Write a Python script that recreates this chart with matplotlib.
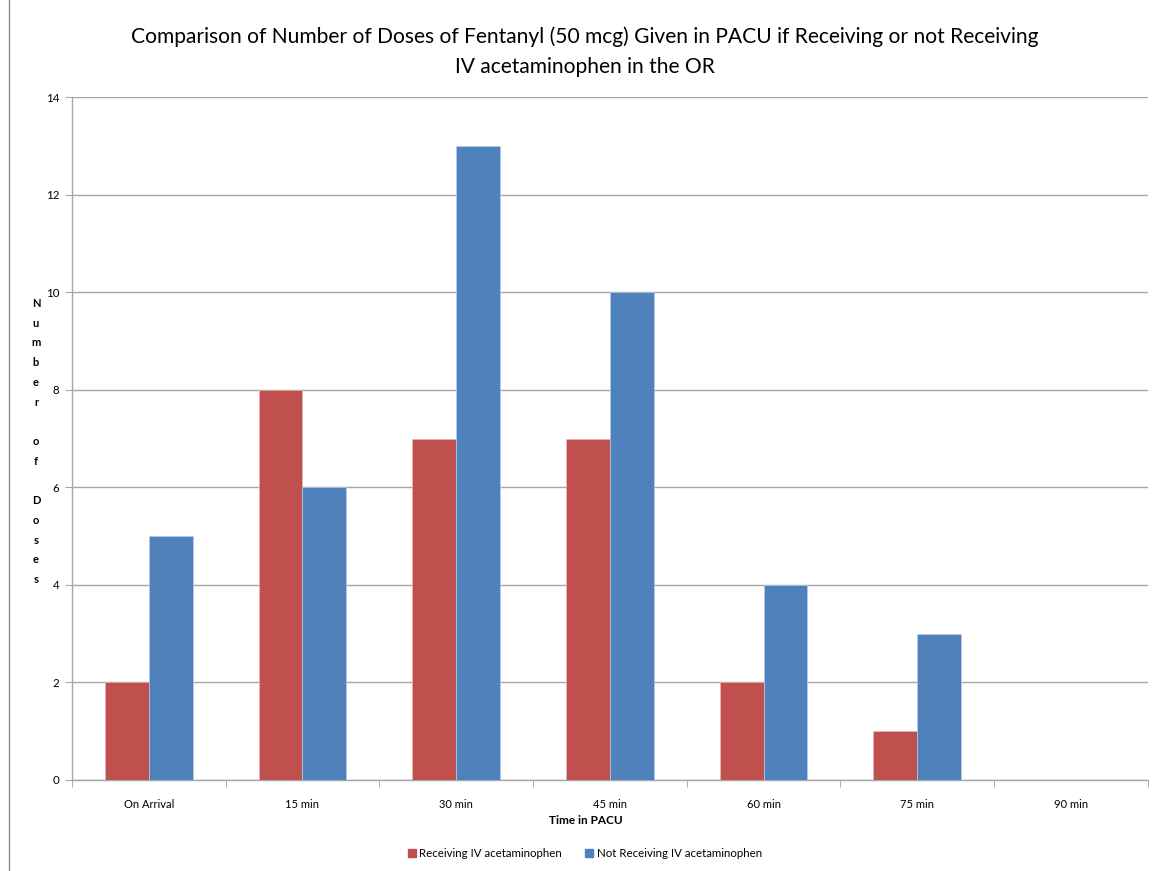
import numpy as np
import matplotlib.pyplot as plt
from matplotlib.lines import Line2D
from matplotlib.patches import Patch

plt.rcParams['font.family'] = ['Lato', 'DejaVu Sans']

# Doses of fentanyl given at each time point in PACU
times = ['On Arrival', '15 min', '30 min', '45 min', '60 min', '75 min', '90 min']
receiving = [2, 8, 7, 7, 2, 1, 0]
not_receiving = [5, 6, 13, 10, 4, 3, 0]

red = '#C0504D'
blue = '#4F81BD'
grid_col = '#A6A6A6'

fig = plt.figure(figsize=(11.6, 8.71), dpi=100)
ax = fig.add_axes([0.062, 0.1045, 0.9275, 0.7841])

x = np.arange(len(times))
w = 0.285
ax.bar(x - w / 2, receiving, w, color=red, edgecolor='#E6B8B7', linewidth=0.5, zorder=3)
ax.bar(x + w / 2, not_receiving, w, color=blue, edgecolor='#B9CDE5', linewidth=0.5, zorder=3)

ax.set_xlim(-0.5, len(times) - 0.5)
ax.set_ylim(0, 14)
ax.set_yticks(np.arange(0, 15, 2))
ax.yaxis.grid(True, color=grid_col, linewidth=1.0, zorder=0)
ax.set_axisbelow(True)

ax.set_xticks(x)
ax.set_xticklabels(times, fontsize=8)
ax.set_xticks(np.arange(-0.5, len(times), 1), minor=True)
ax.tick_params(axis='x', which='major', length=0, pad=14)
ax.tick_params(axis='x', which='minor', length=5, color=grid_col, direction='out')
ax.tick_params(axis='y', length=5, color=grid_col, labelsize=8.3, pad=4)

for s in ['top', 'right']:
    ax.spines[s].set_visible(False)
for s in ['left', 'bottom']:
    ax.spines[s].set_color(grid_col)
    ax.spines[s].set_linewidth(1.0)

ax.set_xlabel('Time in PACU', fontsize=8.5, fontweight='bold')
ax.xaxis.set_label_coords(0.478, -0.052)

# vertical letter-stacked y label
ylab = '\n'.join('Number of Doses')
fig.text(0.031, 0.493, ylab, fontsize=8, fontweight='bold', ha='center', va='center',
         linespacing=1.97)

fig.text(0.504, 0.958, 'Comparison of Number of Doses of Fentanyl (50 mcg) Given in PACU if Receiving or not Receiving',
         fontsize=15.1, ha='center', va='center')
fig.text(0.504, 0.923, 'IV acetaminophen in the OR', fontsize=15.1, ha='center', va='center')

handles = [Patch(color=red), Patch(color=blue)]
fig.legend(handles, ['Receiving IV acetaminophen', 'Not Receiving IV acetaminophen'],
           loc='center', bbox_to_anchor=(0.504, 0.02), ncol=2, frameon=False, fontsize=8.3,
           handlelength=0.7, handleheight=0.7, handletextpad=0.3, columnspacing=2.0)

# chart area border at left edge
fig.add_artist(Line2D([0.008, 0.008], [0.0, 1.0], color='#8C8C8C', linewidth=1.0))

fig.savefig('out.png', dpi=100)
